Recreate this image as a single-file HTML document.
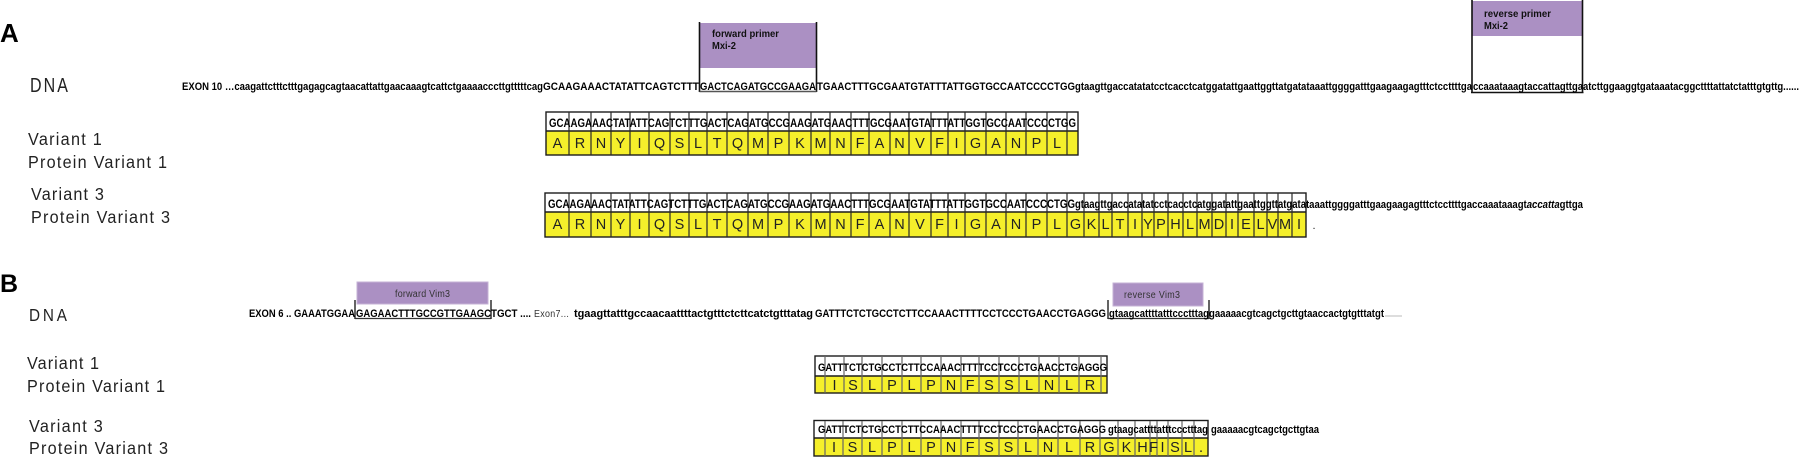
<!DOCTYPE html>
<html><head><meta charset="utf-8"><style>
html,body{margin:0;padding:0;background:#fff}
svg{display:block}
text{font-family:"Liberation Sans",Arial,sans-serif;fill:#000}
.h{font-weight:bold;font-size:24px}
.l{font-size:18px;fill:#222}
.s{font-weight:bold;font-size:11px}
.c{font-weight:bold;font-size:11.5px}
.d{font-weight:bold;font-size:11px}
.p{font-size:14.5px;text-anchor:middle;fill:#222}
.m{font-weight:bold;font-size:10.5px;fill:#111}
.v{font-size:10.5px;fill:#333}
.g{fill:#f5ef2b}
.t{fill:none;stroke:#1c1c1c;stroke-width:1.4}
.i{fill:none;stroke:#2a2a2a;stroke-width:1.2}
.b{fill:none;stroke:#111;stroke-width:1.6}
.u{stroke:#333;stroke-width:1.2}
.r{fill:#ab90c3}
</style></head><body>
<svg width="1800" height="457" viewBox="0 0 1800 457" xmlns="http://www.w3.org/2000/svg">
<rect width="1800" height="457" fill="#fff"/>

<text class="h" x="0" y="42" style="font-size:26px">A</text>
<text class="l" transform="translate(30 92) scale(.8 1)" textLength="47.500" style="font-size:20px">DNA</text>
<text class="l" transform="translate(28 145) scale(.9 1)" textLength="82">Variant 1</text>
<text class="l" transform="translate(28 168) scale(.9 1)" textLength="154.400">Protein Variant 1</text>
<text class="l" transform="translate(31 200) scale(.9 1)" textLength="81">Variant 3</text>
<text class="l" transform="translate(31 223) scale(.9 1)" textLength="154.400">Protein Variant 3</text>

<rect class="r" x="700" y="23" width="117" height="45"/>
<path class="b" d="M699.5 22V92M816.5 22V92"/>
<path d="M699.5 91.5H816.5" stroke="#555" stroke-width="1.4" fill="none"/>
<text class="m" x="712" y="37" textLength="67" lengthAdjust="spacingAndGlyphs">forward primer</text>
<text class="m" x="712" y="49" textLength="24" lengthAdjust="spacingAndGlyphs">Mxi-2</text>

<rect class="r" x="1472" y="1" width="110" height="35"/>
<path class="b" d="M1472 0V93M1582.5 0V93M1471 92.5H1583.5"/>
<text class="m" x="1484" y="17" textLength="67" lengthAdjust="spacingAndGlyphs">reverse primer</text>
<text class="m" x="1484" y="29" textLength="24" lengthAdjust="spacingAndGlyphs">Mxi-2</text>

<text class="s" x="182" y="90" textLength="361" lengthAdjust="spacingAndGlyphs">EXON 10 …caagattctttctttgagagcagtaacattattgaacaaagtcattctgaaaacccttgtttttcag</text>
<text class="s" x="543" y="90" textLength="156" lengthAdjust="spacingAndGlyphs">GCAAGAAACTATATTCAGTCTTT</text>
<text class="s" x="700" y="90" textLength="116" lengthAdjust="spacingAndGlyphs">GACTCAGATGCCGAAGA</text>
<text class="s" x="817" y="90" textLength="258" lengthAdjust="spacingAndGlyphs">TGAACTTTGCGAATGTATTTATTGGTGCCAATCCCCTGG</text>
<text class="s" x="1075" y="90" textLength="397" lengthAdjust="spacingAndGlyphs">gtaagttgaccatatatcctcacctcatggatattgaattggttatgatataaattggggatttgaagaagagtttctccttttga</text>
<text class="s" x="1473" y="90" textLength="110" lengthAdjust="spacingAndGlyphs">ccaaataaagtaccattagttga</text>
<text class="s" x="1583" y="90" textLength="216" lengthAdjust="spacingAndGlyphs">atcttggaaggtgataaatacggcttttattatctatttgtgttg......</text>

<!-- Table A variant 1 -->
<rect class="g" x="546" y="131" width="532" height="24"/>
<rect class="t" x="546" y="112" width="532" height="43"/>
<path class="t" d="M546 131H1078"/>
<path class="i" d="M569 112V155M591 112V155M611 112V155M630 112V155M649 112V155M670 112V155M689 112V155M707 112V155M727 112V155M748 112V155M768 112V155M789 112V155M811 112V155M830 112V155M851 112V155M869 112V155M890 112V155M909 112V155M931 112V155M948 112V155M965 112V155M986 112V155M1006 112V155M1026 112V155M1047 112V155M1067 112V155"/>
<text class="c" x="549" y="127" textLength="527" lengthAdjust="spacingAndGlyphs">GCAAGAAACTATATTCAGTCTTTGACTCAGATGCCGAAGATGAACTTTGCGAATGTATTTATTGGTGCCAATCCCCTGG</text>
<text class="p" y="148" x="557.5 580 601 620.5 639.5 659.5 679.5 698 717 737.5 758 778.5 800 820.5 840.5 860 879.5 899.5 920 939.5 956.5 975.5 996 1016 1036.5 1057">ARNYIQSLTQMPKMNFANVFIGANPL</text>

<!-- Table A variant 3 -->
<rect class="g" x="545" y="212" width="761" height="25"/>
<rect class="t" x="545" y="193" width="761" height="44"/>
<path class="t" d="M545 212H1306"/>
<path class="i" d="M569 193V237M591 193V237M611 193V237M630 193V237M649 193V237M670 193V237M689 193V237M707 193V237M727 193V237M748 193V237M768 193V237M789 193V237M811 193V237M830 193V237M851 193V237M869 193V237M890 193V237M909 193V237M931 193V237M948 193V237M965 193V237M986 193V237M1006 193V237M1026 193V237M1047 193V237M1067 193V237M1084 193V237M1099 193V237M1112 193V237M1128 193V237M1142 193V237M1154 193V237M1168 193V237M1183 193V237M1197 193V237M1212 193V237M1226 193V237M1238 193V237M1254 193V237M1267 193V237M1278 193V237M1292 193V237"/>
<text class="c" x="548" y="208" textLength="527" lengthAdjust="spacingAndGlyphs">GCAAGAAACTATATTCAGTCTTTGACTCAGATGCCGAAGATGAACTTTGCGAATGTATTTATTGGTGCCAATCCCCTGG</text>
<text class="c" x="1075" y="208" textLength="231" lengthAdjust="spacingAndGlyphs">gtaagttgaccatatatcctcacctcatggatattgaattggttatgata</text>
<text class="d" x="1306" y="208" textLength="277" lengthAdjust="spacingAndGlyphs">taaattggggatttgaagaagagtttctccttttgaccaaataaagt<tspan font-style="italic">accatta</tspan>gttga</text>
<text class="p" y="229" x="557.5 580 601 620.5 639.5 659.5 679.5 698 717 737.5 758 778.5 800 820.5 840.5 860 879.5 899.5 920 939.5 956.5 975.5 996 1016 1036.5 1057 1075.5 1091.5 1105.5 1120 1135 1148 1161 1175.5 1190 1204.5 1219 1232 1246 1260.5 1272.5 1285 1299">ARNYIQSLTQMPKMNFANVFIGANPLGKLTIYPHLMDIELVMI</text>
<text class="p" x="1314" y="229" style="font-size:11px">.</text>

<!-- Section B -->
<text class="h" x="0" y="292" style="font-size:25px">B</text>
<text class="l" transform="translate(29 321) scale(.85 1)" textLength="44.700">DNA</text>
<text class="l" transform="translate(27 369) scale(.9 1)" textLength="80">Variant 1</text>
<text class="l" transform="translate(27 392) scale(.9 1)" textLength="153.300">Protein Variant 1</text>
<text class="l" transform="translate(29 432) scale(.9 1)" textLength="82">Variant 3</text>
<text class="l" transform="translate(29 454) scale(.9 1)" textLength="154.400">Protein Variant 3</text>

<rect class="r" x="357" y="282" width="131" height="22" stroke="#c4b2d6" stroke-width="1"/>
<text class="v" transform="translate(395 297) scale(.85 1)" textLength="64.700">forward Vim3</text>
<path class="b" d="M355 300V319M491 300V319" style="stroke-width:1.3"/>
<path class="u" d="M355 318.5H491"/>

<rect class="r" x="1113" y="283" width="90" height="23" stroke="#c4b2d6" stroke-width="1"/>
<text class="v" transform="translate(1124 298) scale(.85 1)" textLength="65.900">reverse Vim3</text>
<path class="b" d="M1108 300V319M1209 300V319" style="stroke-width:1.3"/>
<path class="u" d="M1108 318.5H1209"/>

<text class="s" x="249" y="317" textLength="106" lengthAdjust="spacingAndGlyphs">EXON 6 .. GAAATGGAA</text>
<text class="s" x="356" y="317" textLength="135" lengthAdjust="spacingAndGlyphs">GAGAACTTTGCCGTTGAAGC</text>
<text class="s" x="491" y="317" textLength="40" lengthAdjust="spacingAndGlyphs">TGCT ....</text>
<text class="v" transform="translate(534 317) scale(.85 1)" textLength="41">Exon7...</text>
<text class="s" x="574" y="317" textLength="239" lengthAdjust="spacing">tgaagttatttgccaacaattttactgtttctcttcatctgtttatag</text>
<text class="s" x="815" y="317" textLength="291" lengthAdjust="spacingAndGlyphs">GATTTCTCTGCCTCTTCCAAACTTTTCCTCCCTGAACCTGAGGG</text>
<text class="s" x="1109" y="317" textLength="100" lengthAdjust="spacingAndGlyphs">gtaagcattttatttccctttag</text>
<text class="s" x="1209" y="317" textLength="175" lengthAdjust="spacingAndGlyphs">gaaaaacgtcagctgcttgtaaccactgtgtttatgt</text>
<path d="M1385 316H1402" stroke="#bbb" stroke-width="1" fill="none"/>

<!-- Table B variant 1 -->
<rect class="g" x="815" y="376" width="292" height="17"/>
<rect class="t" x="815" y="356" width="292" height="37"/>
<path class="t" d="M815 376H1107"/>
<path class="i" d="M825 356V393M844 356V393M862 356V393M882 356V393M902 356V393M921 356V393M941 356V393M961 356V393M979 356V393M999 356V393M1019 356V393M1039 356V393M1059 356V393M1079 356V393M1101 356V393" style="stroke:#666"/>
<text class="d" x="818" y="371" textLength="289" lengthAdjust="spacingAndGlyphs">GATTTCTCTGCCTCTTCCAAACTTTTCCTCCCTGAACCTGAGGG</text>
<text class="p" y="390" x="834.5 853 872 892 911.5 931 951 970 989 1009 1029 1049 1069 1090">ISLPLPNFSSLNLR</text>

<!-- Table B variant 3 -->
<rect class="g" x="814" y="438" width="394" height="18"/>
<rect class="t" x="814" y="420.500" width="394" height="35.500"/>
<path class="t" d="M814 438H1208"/>
<path class="i" d="M825 421V456M843 421V456M862 421V456M882 421V456M902 421V456M921 421V456M941 421V456M961 421V456M979 421V456M999 421V456M1018 421V456M1038 421V456M1058 421V456M1080 421V456M1100 421V456M1118 421V456M1135 421V456M1150 421V456M1157 421V456M1168 421V456M1182 421V456M1194 421V456" style="stroke:#666"/>
<text class="d" x="818" y="433" textLength="288" lengthAdjust="spacingAndGlyphs">GATTTCTCTGCCTCTTCCAAACTTTTCCTCCCTGAACCTGAGGG</text>
<text class="d" x="1108" y="433" textLength="100" lengthAdjust="spacingAndGlyphs">gtaagcattttatttccctttag</text>
<text class="d" x="1211" y="433" textLength="108" lengthAdjust="spacingAndGlyphs">gaaaaacgtcagctgcttgtaa</text>
<text class="p" y="452" x="834 852.5 872 892 911.5 931 951 970 989 1008.5 1028 1048 1069 1090 1109 1126.5 1142.5 1153.5 1162.5 1175 1188 1201">ISLPLPNFSSLNLRGKHFISL.</text>
</svg>
</body></html>
